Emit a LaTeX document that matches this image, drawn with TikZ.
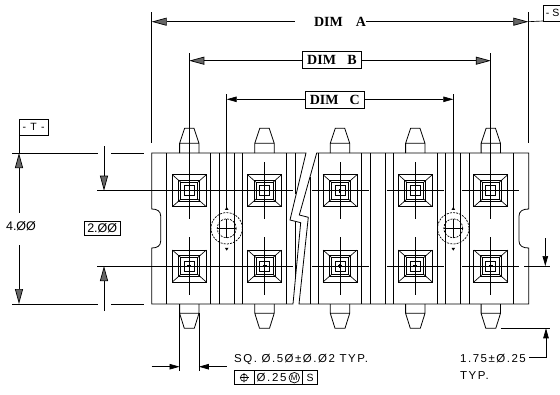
\documentclass[tikz,border=0pt]{standalone}
\usepackage{fontspec}
\setmainfont{Liberation Sans}
\newfontfamily\dimfont{Liberation Serif}
\newfontfamily\cadfont[LetterSpace=13]{Liberation Sans}
\usetikzlibrary{arrows.meta}

\tikzset{
  part/.style={line width=0.8pt},
  thinline/.style={line width=0.65pt},
  bighead/.style={-{Triangle[length=15pt,width=8pt,fill=black!60]},line width=0.7pt},
  smallhead/.style={-{Triangle[length=10pt,width=5.5pt]},line width=0.7pt},
  dimbox/.style={draw,line width=0.8pt,inner sep=0pt,minimum height=17pt,font=\dimfont\bfseries\fontsize{14}{14}\selectfont,fill=white},
  tagbox/.style={draw,line width=0.7pt,inner sep=0pt,font=\cadfont\fontsize{10.5}{11}\selectfont},
  cadtext/.style={inner sep=0pt,anchor=west,font=\cadfont\fontsize{11.5}{12}\selectfont},
  holemark/.style={dashed,dash pattern=on 2pt off 1.2pt,line width=0.7pt}
}

\begin{document}
\begin{tikzpicture}[x=1pt,y=-1pt]
\useasboundingbox (0,0) rectangle (560,394);

% housing outline with the two notches and the break
\draw[part] (306,153)--(151.7,153)--(151.7,209) .. controls (157,209) and (160.7,211) .. (160.7,216)--(160.7,241) .. controls (160.7,246) and (157,248) .. (151.7,248)--(151.7,304)--(293,304)--(300.7,222.7)--(290,220)--cycle;
\draw[part] (316.7,153)--(528.7,153)--(528.7,209) .. controls (523,209) and (519,211) .. (519,216)--(519,241) .. controls (519,246) and (523,248) .. (528.7,248)--(528.7,304)--(299,304)--(308.3,217.3)--(299.3,215)--cycle;

% ribs
\foreach \ribx in {166.7,210.7,219.3,234,242.5,286.7,318.3,361.7,370.3,385,393.3,437.3,445.7,460.7,469.3,513.3}
  \draw[thinline] (\ribx,153)--(\ribx,304);
\draw[thinline] (295.7,153)--(295.7,194) (295.7,221.5)--(295.7,276);
\draw[thinline] (310,177)--(310,304);

% pins, pads and centre lines
\foreach \pinx in {189.3,264.5,340,415.3,490.8} {
  \draw[part] (\pinx-9.7,153)--(\pinx-9.7,143.3)--(\pinx-4.7,128.3)--(\pinx+4.7,128.3)--(\pinx+9.7,143.3)--(\pinx+9.7,153) (\pinx-9.7,143.3)--(\pinx+9.7,143.3);
  \draw[part] (\pinx-9.7,304)--(\pinx-9.7,313.3)--(\pinx-5,328.3)--(\pinx+5,328.3)--(\pinx+9.7,313.3)--(\pinx+9.7,304) (\pinx-9.7,313.3)--(\pinx+9.7,313.3);
  \foreach \piny in {190.7,266} {
    \draw[part] (\pinx-17,\piny-16) rectangle (\pinx+17,\piny+16);
    \draw[part] (\pinx-10.5,\piny-10.5) rectangle (\pinx+10.5,\piny+10.5);
    \draw[thinline] (\pinx-8.5,\piny-8.5) rectangle (\pinx+8.5,\piny+8.5);
    \draw[thinline] (\pinx-5,\piny-5) rectangle (\pinx+5,\piny+5);
    \draw[thinline] (\pinx-17,\piny-16)--(\pinx-8.5,\piny-8.5) (\pinx+17,\piny-16)--(\pinx+8.5,\piny-8.5) (\pinx-17,\piny+16)--(\pinx-8.5,\piny+8.5) (\pinx+17,\piny+16)--(\pinx+8.5,\piny+8.5);
    \draw[thinline] (\pinx-28.5,\piny)--(\pinx+28.5,\piny) (\pinx,\piny-28.7)--(\pinx,\piny+28.7);
    \draw[line width=1.1pt] (\pinx-2,\piny)--(\pinx+2,\piny) (\pinx,\piny-2)--(\pinx,\piny+2);
  }
}

% dashed holes
\foreach \holex in {226.7,453.3} {
  \draw[holemark] (\holex,228.3) circle (15.7);
  \draw[holemark] (\holex,228.3) circle (9.5);
  \draw[thinline] (\holex-9.5,228.3)--(\holex+9.5,228.3) (\holex,219)--(\holex,238);
  \fill (\holex-1.8,209.8)--(\holex,207)--(\holex+1.8,209.8)--cycle;
  \fill (\holex-1.8,247.8)--(\holex,250.7)--(\holex+1.8,247.8)--cycle;
}

% overall dimensions on top
\node[dimbox,draw=none,fill=none] (dima) at (340,21.7) {DIM\hspace{13pt}A};
\node[dimbox,minimum width=59.5pt] (dimb) at (332,59.8) {DIM\hspace{11.5pt}B};
\node[dimbox,minimum width=59.7pt] (dimc) at (334.8,99.5) {DIM\hspace{11pt}C};
\coordinate (aleft) at (151.7,21.7);
\coordinate (aright) at (528.3,21.7);
\coordinate (bleft) at (189.3,60.7);
\coordinate (bright) at (490.8,60.7);
\coordinate (cleft) at (226.7,99.3);
\coordinate (cright) at (453.3,99.3);
\draw[thinline] (151.7,12)--(151.7,143) (528.3,12)--(528.3,143);
\draw[thinline] (189.3,53)--(189.3,219) (490.8,53)--(490.8,219);
\draw[thinline] (226.7,94)--(226.7,208) (453.3,94)--(453.3,208);
\draw[bighead] ([xshift=-19pt]dima.west)--(aleft);
\draw[bighead] (dima.east)--(aright);
\draw[bighead] (dimb.west|-bleft)--(bleft);
\draw[bighead] (dimb.east|-bright)--(bright);
\draw[smallhead] (dimc.west|-cleft)--(cleft);
\draw[smallhead] (dimc.east|-cright)--(cright);
\coordinate (stagcorner) at (543,21);
\draw[thinline] (aright)--(stagcorner);
\draw[thinline] (560,5.3)--(543,5.3)--(stagcorner)--(560,21);
\node[inner sep=0pt,anchor=east,font=\fontsize{10.5}{11}\selectfont] (stag) at (559.6,13.2) {- S};

% datum T and the 4.00 / 2.00 dimensions
\node[tagbox,minimum width=28.7pt,minimum height=15.4pt,anchor=north west] (ttag) at (19,119.3) {- T -};
\node[inner sep=0pt,font=\fontsize{12.5}{13}\selectfont] (dimfour) at (21,226.5) {4.ØØ};
\node[tagbox,minimum width=36.3pt,minimum height=14.7pt,font=\fontsize{12.5}{13}\selectfont] (dimtwo) at (102.2,228.3) {2.ØØ};
\coordinate (ttop) at (19,153);
\coordinate (tbottom) at (19,304);
\draw[thinline] (ttag.south west)--(ttop);
\draw[bighead] (19,212.7)--(ttop);
\draw[bighead] (19,245)--(tbottom);
\draw[thinline] (12,153)--(98,153) (111,153)--(144,153);
\draw[thinline] (12,304)--(98,304) (111,304)--(144,304);
\coordinate (rowone) at (104,190.7);
\coordinate (rowtwo) at (104,266);
\draw[thinline] (97,190.7)--(292.7,190.7);
\draw[thinline] (97,266)--(292.7,266);
\draw[line width=1.2pt] (160,190.7)--(218,190.7);
\draw[bighead] (104,146)--(rowone);
\draw[bighead] (104,311)--(rowtwo);

% pin width note
\coordinate (sqleft) at (179.6,366.7);
\coordinate (sqright) at (198.9,366.7);
\draw[thinline] (179.6,313)--(179.6,370.7) (198.9,313)--(198.9,370.7);
\draw[smallhead] (151.7,366.7)--(sqleft);
\draw[smallhead] (226.7,366.7)--(sqright);
\node[cadtext] (sqnote) at (234,359.3) {SQ.\ Ø.5Ø±Ø.Ø2 TYP.};
\draw[thinline] (234,370.7) rectangle (317,384.7) (254,370.7)--(254,384.7) (302.7,370.7)--(302.7,384.7);
\draw[thinline] (244,377.7) circle (3.6) (244,373)--(244,382.4);
\draw[line width=1.1pt] (239.5,377.7)--(248.5,377.7);
\node[cadtext,font=\cadfont\fontsize{11.5}{12}\selectfont] (tolval) at (256.5,377.9) {Ø.\,25};
\node[inner sep=0pt,font=\fontsize{8}{8}\selectfont,circle,draw,line width=0.7pt,minimum size=10.5pt] (tolm) at (294.3,377.7) {M};
\node[inner sep=0pt,font=\fontsize{10.5}{11}\selectfont] (tols) at (310,377.9) {S};

% pin length note
\node[cadtext] (lennote) at (460,358.3) {1.75±Ø.25};
\node[cadtext] (lentyp) at (460,375.7) {TYP.};
\coordinate (lentip) at (546,328.3);
\draw[thinline] (500.7,328.3)--(550,328.3);
\draw[smallhead] (529.3,357.3)-|(lentip);
\draw[thinline] (524.3,266)--(550,266);
\coordinate (rowright) at (545.3,266);
\draw[smallhead] (545.3,238)--(rowright);
\end{tikzpicture}
\end{document}
